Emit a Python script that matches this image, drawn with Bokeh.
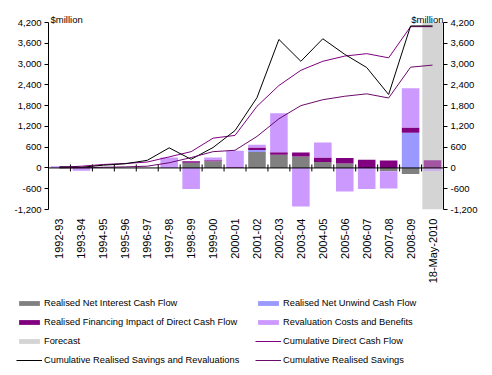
import math
from bokeh.plotting import figure
from bokeh.layouts import column
from bokeh.models import (ColumnDataSource, Range1d, LinearAxis, FixedTicker,
                          NumeralTickFormatter, Legend, LegendItem, Label, Span)
from bokeh.transform import dodge
from bokeh.embed import file_html
from bokeh.resources import INLINE

# ---------------- data ----------------
categories = ["1992-93", "1993-94", "1994-95", "1995-96", "1996-97", "1997-98",
              "1998-99", "1999-00", "2000-01", "2001-02", "2002-03", "2003-04",
              "2004-05", "2005-06", "2006-07", "2007-08", "2008-09", "18-May-2010"]

net_interest = [0, 0, 0, 0, 0, 0, 150, 190, 0, 460, 380, 330, 175, 125, 0, -97, -175, 0]
net_unwind = [0, 0, 0, 0, 0, 0, 0, 0, 0, 60, 0, 0, 0, 0, 0, 0, 1015, 0]
financing = [0, 20, 0, 0, 0, 0, 40, 30, 20, 70, 70, 115, 125, 165, 240, 215, 155, 220]
revaluation = [50, -80, 0, 0, 0, 300, -610, 80, 480, 80, 1130, -1110, 435, -680, -610, -500, 1130, -90]
forecast_high = [None] * 17 + [4200]
forecast_low = [None] * 17 + [-1200]

cum_direct = [20, 50, 100, 130, 170, 320, 470, 860, 940, 1780, 2380, 2820, 3080, 3230, 3300, 3180, 4080, 4080]
cum_sav_reval = [30, 20, 80, 120, 220, 580, 250, 590, 1080, 2030, 3710, 3080, 3730, 3280, 2900, 2120, 4100, 4100]
cum_savings = [0, 10, 20, 30, 50, 150, 300, 470, 510, 910, 1420, 1800, 1970, 2070, 2140, 2020, 2910, 2970]

y_ticks = [-1200, -600, 0, 600, 1200, 1800, 2400, 3000, 3600, 4200]

# ---------------- main figure ----------------
FONT = "Liberation Sans"
W = 492
MAIN_H = 290
TOP = 8            # frame top (room for "$million" above the axes)
AX_TOP = 22        # where the 4,200 tick sits
AX_BOT = 209       # where the -1,200 tick sits
LEFT = 48
FRAME_W = 395
y_lo, y_hi = y_ticks[0], y_ticks[-1]
FRAME_H = AX_BOT - TOP
y_top = y_hi + (y_hi - y_lo) * (AX_TOP - TOP) / (AX_BOT - AX_TOP)

p = figure(x_range=categories, y_range=Range1d(y_lo, y_top),
           width=W, height=MAIN_H, output_backend="svg", toolbar_location=None,
           min_border_left=LEFT, min_border_right=W - LEFT - FRAME_W,
           min_border_top=TOP, min_border_bottom=MAIN_H - TOP - FRAME_H)
p.frame_align = False
p.outline_line_color = None
p.xgrid.grid_line_color = None
p.ygrid.grid_line_color = None
p.x_range.range_padding = 0

ya = p.yaxis[0]
ya.ticker = FixedTicker(ticks=y_ticks)
ya.formatter = NumeralTickFormatter(format="0,0")
ra = LinearAxis(ticker=FixedTicker(ticks=y_ticks), formatter=NumeralTickFormatter(format="0,0"))
p.add_layout(ra, "right")
for ax in (ya, ra):
    ax.bounds = (y_lo, y_hi)
    ax.axis_line_color = "black"
    ax.major_tick_line_color = "black"
    ax.major_tick_out = 4
    ax.major_tick_in = 0
    ax.minor_tick_line_color = None
    ax.major_label_text_font = FONT
    ax.major_label_text_font_size = "9.5px"
    ax.major_label_text_color = "black"
    ax.major_label_standoff = 3

xa = p.xaxis[0]
xa.axis_line_color = None
xa.major_tick_line_color = None
xa.major_tick_out = 0
xa.major_tick_in = 0
xa.minor_tick_line_color = None
xa.major_label_orientation = math.pi / 2
xa.major_label_text_font = FONT
xa.major_label_text_font_size = "11px"
xa.major_label_text_color = "black"
xa.major_label_standoff = 9

# forecast band
FC_COLOR = "#D4D4D4"
fc = [(c, h, l) for c, h, l in zip(categories, forecast_high, forecast_low) if h is not None]
fsrc = ColumnDataSource(dict(x=[f[0] for f in fc], top=[f[1] for f in fc], bottom=[f[2] for f in fc]))
p.vbar(x="x", top="top", bottom="bottom", width=0.93, source=fsrc,
       fill_color=FC_COLOR, line_color=None)

# stacked bars (positives up from 0, negatives down from 0)
n = len(categories)
pos = [0.0] * n
neg = [0.0] * n
series = [("Realised Net Interest Cash Flow", net_interest, "#808080"),
          ("Realised Net Unwind Cash Flow", net_unwind, "#9999FF"),
          ("Realised Financing Impact of Direct Cash Flow", financing, "#800080"),
          ("Revaluation Costs and Benefits", revaluation, "#CC99FF")]
alpha = [1.0] * (n - 1) + [0.6]
bar_sources = {}
for name, vals, col in series:
    bottoms, tops = [], []
    for i, v in enumerate(vals):
        if v >= 0:
            bottoms.append(pos[i]); tops.append(pos[i] + v); pos[i] += v
        else:
            bottoms.append(neg[i]); tops.append(neg[i] + v); neg[i] += v
    src = ColumnDataSource(dict(x=categories, top=tops, bottom=bottoms, a=alpha))
    bar_sources[name] = src
    p.vbar(x="x", top="top", bottom="bottom", width=0.8, source=src,
           fill_color=col, fill_alpha="a", line_color=None)

# zero axis line with category ticks
p.add_layout(Span(location=0, dimension="width", line_color="black", line_width=1))
tsrc = ColumnDataSource(dict(x=categories[:-1], y=[0] * (n - 1)))
p.scatter(x=dodge("x", 0.5, range=p.x_range), y="y", source=tsrc, marker="dash",
          angle=math.pi / 2, size=7, line_color="black", line_width=1)

# lines
lines = [("Cumulative Direct Cash Flow", cum_direct, "#800080"),
         ("Cumulative Realised Savings and Revaluations", cum_sav_reval, "black"),
         ("Cumulative Realised Savings", cum_savings, "#6A0A6A")]
for name, vals, col in lines:
    p.line(categories, vals, line_color=col, line_width=1)

# unit labels
for xx, al in ((2, "left"), (FRAME_W, "right")):
    p.add_layout(Label(x=xx, y=y_hi, x_units="screen", y_offset=3, text="$million",
                       text_font=FONT, text_font_size="9.5px", text_align=al,
                       text_baseline="alphabetic", text_color="black"))

# ---------------- legend strip (same series, drawn out of view) ----------------
LEG_H = 375 - MAIN_H
q = figure(width=W, height=LEG_H, x_range=categories, y_range=Range1d(1e7, 1e7 + 1),
           output_backend="svg", toolbar_location=None,
           x_axis_location=None, y_axis_location=None, min_border=0)
q.frame_align = False
q.outline_line_color = None
q.grid.grid_line_color = None
leg_r = {}
for name, vals, col in series:
    leg_r[name] = q.vbar(x="x", top="top", bottom="bottom", width=0.8, source=bar_sources[name],
                         fill_color=col, line_color=None)
leg_r["Forecast"] = q.vbar(x="x", top="top", bottom="bottom", width=0.93, source=fsrc,
                           fill_color=FC_COLOR, line_color=None)
for name, vals, col in lines:
    leg_r[name] = q.line(categories, vals, line_color=col, line_width=1)

order = ["Realised Net Interest Cash Flow", "Realised Net Unwind Cash Flow",
         "Realised Financing Impact of Direct Cash Flow", "Revaluation Costs and Benefits",
         "Forecast", "Cumulative Direct Cash Flow",
         "Cumulative Realised Savings and Revaluations", "Cumulative Realised Savings"]
items = [LegendItem(label=k, renderers=[leg_r[k]]) for k in order]
leg = Legend(items=items, location=(16, 8), orientation="horizontal", ncols=2,
             glyph_width=26, glyph_height=6, label_height=14, label_width=206,
             label_standoff=2, spacing=5, padding=0, margin=0,
             border_line_color=None, background_fill_alpha=0,
             label_text_font=FONT, label_text_font_size="9.3px", label_text_color="black")
q.add_layout(leg, "center")

layout = column(p, q, spacing=0)
open("out.html", "w").write(file_html(layout, INLINE))
